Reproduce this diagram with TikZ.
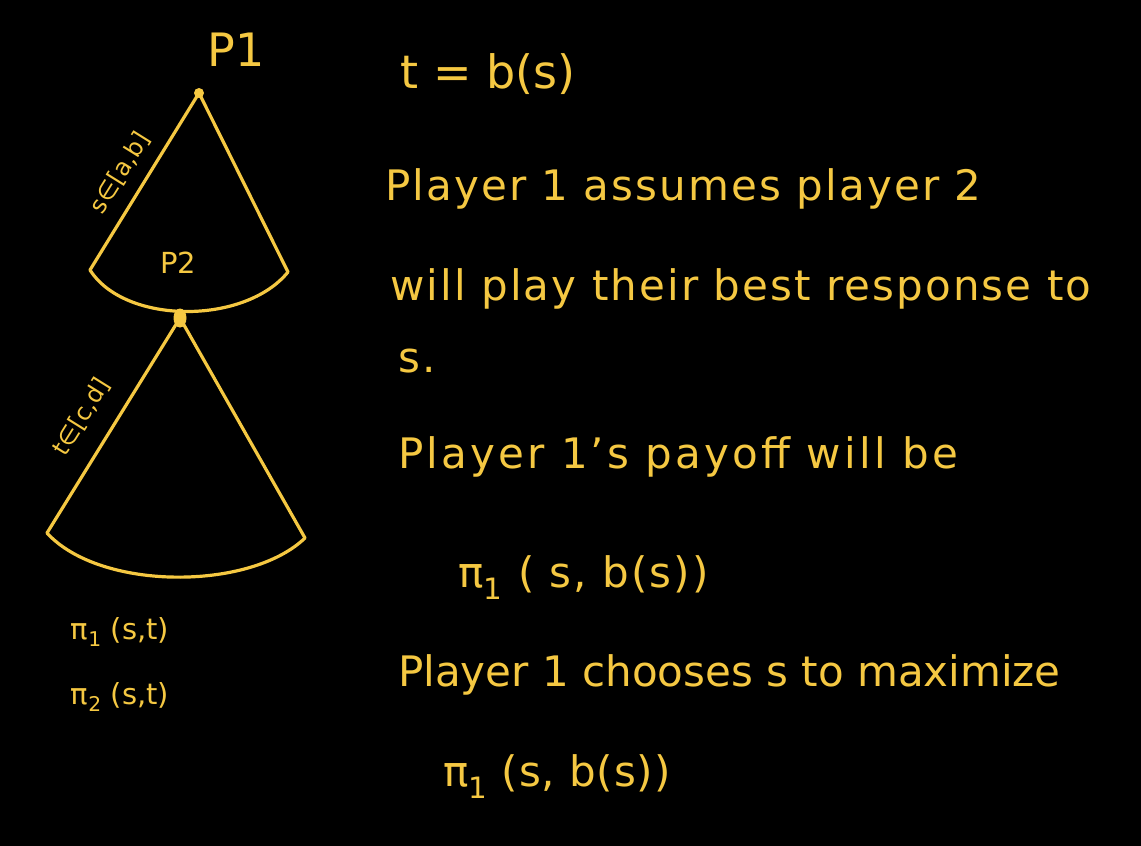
\documentclass[tikz,border=0pt]{standalone}
\usepackage{fontspec}
\setmainfont{DejaVu Sans}
\usetikzlibrary{shapes.geometric}
\definecolor{chalk}{HTML}{F5C842}
\begin{document}
\begin{tikzpicture}[x=1pt,y=-1pt,
  stroke/.style={draw=chalk,line width=3.2pt,line cap=round,line join=round},
  big/.style={text=chalk,font=\fontsize{46}{50}\selectfont,inner sep=0pt},
  txt/.style={text=chalk,font=\fontsize{42}{46}\selectfont\addfontfeature{LetterSpace=5},anchor=base west,inner sep=0pt},
  small/.style={text=chalk,font=\fontsize{29}{32}\selectfont,inner sep=0pt},
  edgelab/.style={text=chalk,font=\fontsize{24}{28}\selectfont,inner sep=0pt}]
\fill[black] (0,0) rectangle (1141,846);
\useasboundingbox (0,0) rectangle (1141,846);
% tree
\node[fill=chalk,circle,inner sep=0pt,minimum size=10pt] (p1) at (199,93) {};
\node[fill=chalk,ellipse,inner sep=0pt,minimum width=13pt,minimum height=19pt] (p2) at (180,318) {};
\coordinate (ul) at (90,270);
\coordinate (ur) at (288,272);
\coordinate (ll) at (47,533);
\coordinate (lr) at (305,538);
\draw[stroke] (p1.center) -- (ul);
\draw[stroke] (p1.center) -- (ur);
\draw[stroke] (ul) .. controls (125,325) and (245,325) .. (ur);
\draw[stroke] (p2.center) -- (ll);
\draw[stroke] (p2.center) -- (lr);
\draw[stroke] (ll) .. controls (100,591) and (250,591) .. (lr);
\node[big] (lp1) at (236,50) {P1};
\node[small] (lp2) at (178,263) {P2};
\node[edgelab,rotate=58] (ls) at (120,173) {s∈[a,b]};
\node[edgelab,rotate=58] (lt) at (82,417) {t∈[c,d]};
\node[small] (pi1) at (120,632) {π\textsubscript{1} (s,t)};
\node[small] (pi2) at (120,697) {π\textsubscript{2} (s,t)};
% text
\node[big,anchor=base] (tb) at (488,88) {t = b(s)};
\node[txt] (l1) at (385,200) {Player 1 assumes player 2};
\node[txt] (l2) at (390,300) {will play their best response to};
\node[txt] (l3) at (398,372) {s.};
\node[txt,font=\fontsize{42}{46}\selectfont\addfontfeature{LetterSpace=7.5}] (l4) at (398,468) {Player 1's payoff will be};
\node[txt] (l5) at (458,587) {π\textsubscript{1} ( s, b(s))};
\node[txt,font=\fontsize{42}{46}\selectfont\addfontfeature{LetterSpace=0}] (l6) at (398,686) {Player 1 chooses s to maximize};
\node[txt,font=\fontsize{42}{46}\selectfont\addfontfeature{LetterSpace=2}] (l7) at (443,786) {π\textsubscript{1} (s, b(s))};
\end{tikzpicture}
\end{document}
